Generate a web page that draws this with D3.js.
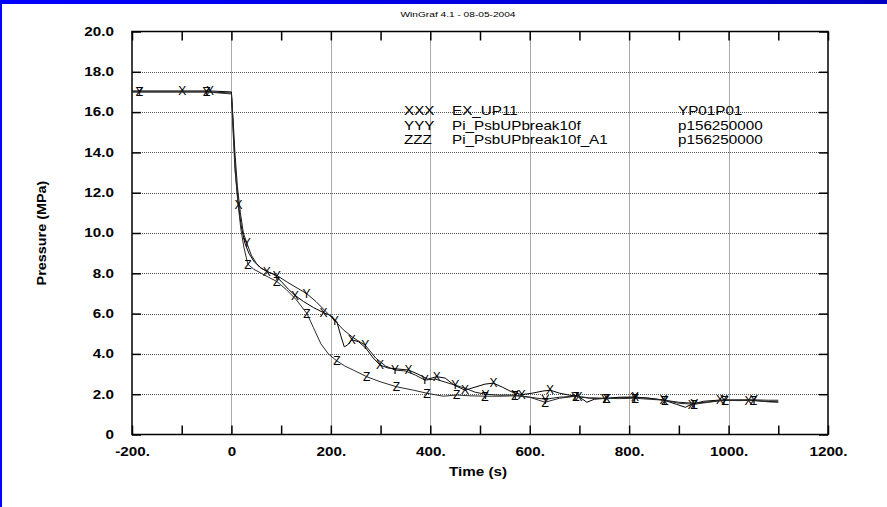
<!DOCTYPE html>
<html>
<head>
<meta charset="utf-8">
<script src="https://cdn.jsdelivr.net/npm/d3@7"></script>
<style>
body { margin: 0; background: #fff; }
svg { display: block; }
text { font-family: "Liberation Sans", Arial, sans-serif; }
</style>
</head>
<body>
<script>
const largura = 887
const altura = 507
const area = {esquerda: 132, direita: 828, topo: 31.5, base: 434.5}
const esticar = 1.27

// eixos
const xTicks = [-200, -100, 0, 100, 200, 300, 400, 500, 600, 700, 800, 900, 1000, 1100, 1200]
const xRotulos = [-200, 0, 200, 400, 600, 800, 1000, 1200]
const xGrade = [0, 200, 400, 600, 800, 1000]
const yTicks = [0, 2, 4, 6, 8, 10, 12, 14, 16, 18, 20]
const yGrade = [2, 4, 6, 8, 10, 12, 14, 16, 18]

// XXX  EX_UP11
const tempoX = [-200, -99, -43, 0, 3, 8, 14, 20, 27, 35, 45, 57, 71, 85, 100, 115, 128, 145, 165, 185,
  200, 212, 220, 227, 234, 242, 256, 270, 285, 299, 315, 335, 356, 375, 395, 413, 430, 448, 470, 490,
  510, 527, 545, 565, 584, 605, 625, 641, 660, 680, 698, 715, 730, 755, 780, 812, 840, 869, 895, 913,
  926, 950, 983, 1010, 1040, 1070, 1100]
const pressaoX = [17.05, 17.05, 17.05, 17.0, 15.5, 13.0, 11.4, 10.3, 9.5, 9.0, 8.6, 8.3, 8.1, 7.95, 7.6, 7.2, 6.9, 6.6, 6.3, 6.05,
  5.9, 5.6, 4.9, 4.35, 4.45, 4.7, 4.6, 4.3, 3.8, 3.45, 3.3, 3.25, 3.2, 3.0, 2.75, 2.87, 2.8, 2.45, 2.2, 2.35,
  2.5, 2.55, 2.35, 2.1, 1.98, 2.05, 2.15, 2.2, 2.05, 1.95, 1.9, 1.6, 1.75, 1.8, 1.85, 1.86, 1.8, 1.71, 1.5, 1.35,
  1.5, 1.65, 1.71, 1.7, 1.7, 1.65, 1.62]
const marcasX = [-99, -43, 14, 71, 128, 185, 242, 299, 356, 413, 470, 527, 584, 641, 698, 755, 812, 869, 926, 983, 1040]

// YYY  Pi_PsbUPbreak10f
const tempoY = [-200, -185, -50, 0, 3, 7, 12, 18, 24, 31, 40, 50, 60, 75, 91, 110, 130, 151, 170, 190,
  208, 225, 245, 269, 290, 310, 329, 350, 370, 389, 410, 430, 450, 470, 490, 511, 540, 571, 600, 631,
  660, 691, 720, 751, 780, 811, 840, 871, 900, 931, 960, 991, 1020, 1051, 1080, 1100]
const pressaoY = [17.0, 17.0, 17.0, 16.95, 15.8, 14.0, 12.3, 11.0, 10.0, 9.5, 8.9, 8.5, 8.25, 8.05, 7.9, 7.6, 7.3, 7.0, 6.6, 6.1,
  5.65, 5.2, 4.8, 4.44, 3.8, 3.4, 3.2, 3.15, 2.95, 2.7, 2.75, 2.6, 2.45, 2.3, 2.1, 2.0, 1.95, 1.96, 1.85, 1.75,
  1.85, 1.9, 1.8, 1.78, 1.82, 1.85, 1.8, 1.7, 1.6, 1.55, 1.62, 1.71, 1.72, 1.72, 1.7, 1.7]
const marcasY = [-185, -50, 31, 91, 151, 208, 269, 329, 389, 450, 511, 571, 631, 691, 751, 811, 871, 931, 991, 1051]

// ZZZ  Pi_PsbUPbreak10f_A1
const tempoZ = [-200, -185, -50, 0, 3, 7, 13, 19, 25, 33, 45, 60, 75, 91, 110, 130, 152, 165, 180, 195,
  212, 228, 245, 272, 299, 332, 366, 393, 426, 453, 480, 510, 540, 570, 600, 631, 660, 693, 720, 754,
  780, 812, 840, 872, 900, 931, 960, 993, 1020, 1050, 1080, 1100]
const pressaoZ = [17.0, 17.0, 17.0, 16.9, 15.2, 13.2, 11.5, 10.2, 9.3, 8.45, 8.2, 8.0, 7.8, 7.6, 7.2, 6.7, 6.0, 5.3, 4.5, 4.0,
  3.65, 3.4, 3.2, 2.87, 2.62, 2.37, 2.2, 2.05, 1.9, 1.96, 1.92, 1.9, 1.9, 1.92, 1.85, 1.6, 1.8, 1.9, 1.82, 1.8,
  1.78, 1.8, 1.75, 1.7, 1.55, 1.5, 1.6, 1.7, 1.68, 1.7, 1.62, 1.6]
const marcasZ = [-185, -50, 33, 91, 152, 212, 272, 332, 393, 453, 510, 570, 631, 693, 754, 812, 872, 931, 993, 1050]

const legendaSimbolo = ['XXX', 'YYY', 'ZZZ']
const legendaNome = ['EX_UP11', 'Pi_PsbUPbreak10f', 'Pi_PsbUPbreak10f_A1']
const legendaCodigo = ['YP01P01', 'p156250000', 'p156250000']

var svg = d3.select('body').append('svg').attr('width', largura).attr('height', altura)

svg.append('rect').attr('width', largura).attr('height', altura).attr('fill', '#fff')

// moldura azul
var grad = svg.append('defs').append('linearGradient').attr('id', 'azul')
grad.append('stop').attr('offset', '0%').attr('stop-color', '#0000ff')
grad.append('stop').attr('offset', '100%').attr('stop-color', '#0000c4')
svg.append('rect').attr('width', largura).attr('height', 4).attr('fill', 'url(#azul)')
svg.append('rect').attr('width', 2).attr('height', altura).attr('fill', '#0000ff')

var xEscala = d3.scaleLinear().domain([-200, 1200]).range([area.esquerda, area.direita])
var yEscala = d3.scaleLinear().domain([0, 20]).range([area.base, area.topo])

// grade pontilhada
svg.append('g').selectAll('line').data(xGrade).join('line')
  .attr('x1', d => Math.round(xEscala(d)) + 0.5).attr('x2', d => Math.round(xEscala(d)) + 0.5)
  .attr('y1', area.topo).attr('y2', area.base)
  .attr('stroke', '#555').attr('stroke-dasharray', '1,1')
svg.append('g').selectAll('line').data(yGrade).join('line')
  .attr('x1', area.esquerda).attr('x2', area.direita)
  .attr('y1', d => Math.round(yEscala(d)) + 0.5).attr('y2', d => Math.round(yEscala(d)) + 0.5)
  .attr('stroke', '#555').attr('stroke-dasharray', '1,1')

function rotuloX(d) {
  if (xRotulos.indexOf(d) < 0) return ''
  return d === 0 ? '0' : d + '.'
}
function rotuloY(d) {
  return d === 0 ? '0' : d.toFixed(1)
}

function estiloEixo(g) {
  g.select('.domain').remove()
  g.selectAll('line').attr('stroke-width', 1.5)
  g.attr('font-family', '"Liberation Sans", Arial, sans-serif')
   .attr('font-size', 12).attr('font-weight', 'bold')
  g.selectAll('text').attr('transform', 'scale(' + esticar + ',1)')
}

var eixoBase = d3.axisBottom(xEscala).tickValues(xTicks).tickFormat(rotuloX)
  .tickSize(-9).tickSizeOuter(0).tickPadding(13)
var eixoTopo = d3.axisTop(xEscala).tickValues(xTicks).tickFormat('')
  .tickSize(-9).tickSizeOuter(0)
var eixoEsquerda = d3.axisLeft(yEscala).tickValues(yTicks).tickFormat(rotuloY)
  .tickSize(-9).tickSizeOuter(0).tickPadding(14.2)
var eixoDireita = d3.axisRight(yEscala).tickValues(yTicks).tickFormat('')
  .tickSize(-9).tickSizeOuter(0)

svg.append('g').attr('transform', 'translate(0,' + area.base + ')').call(eixoBase).call(estiloEixo)
svg.append('g').attr('transform', 'translate(0,' + area.topo + ')').call(eixoTopo).call(estiloEixo)
svg.append('g').attr('transform', 'translate(' + area.esquerda + ',0)').call(eixoEsquerda).call(estiloEixo)
svg.append('g').attr('transform', 'translate(' + area.direita + ',0)').call(eixoDireita).call(estiloEixo)

svg.append('rect')
  .attr('x', area.esquerda).attr('y', area.topo)
  .attr('width', area.direita - area.esquerda).attr('height', area.base - area.topo)
  .attr('fill', 'none').attr('stroke', '#000').attr('stroke-width', 1.5)

// curvas
var geradorLinha = d3.line()
  .x(d => xEscala(d.tempo))
  .y(d => yEscala(d.pressao))

function desenharSerie(tempos, pressoes, marcas, letra, cor) {
  var dados = tempos.map((t, i) => ({tempo: t, pressao: pressoes[i]}))
  svg.append('path')
    .attr('d', geradorLinha(dados))
    .attr('fill', 'none')
    .attr('stroke', cor)
    .attr('stroke-width', 1)
  svg.append('g').selectAll('text')
    .data(dados.filter(d => marcas.indexOf(d.tempo) >= 0))
    .join('text')
    .attr('transform', d => 'translate(' + xEscala(d.tempo) + ',' + yEscala(d.pressao) + ')')
    .attr('text-anchor', 'middle')
    .attr('dy', '0.36em')
    .attr('font-size', 12)
    .attr('fill', '#000')
    .text(letra)
}

desenharSerie(tempoX, pressaoX, marcasX, 'X', '#000')
desenharSerie(tempoY, pressaoY, marcasY, 'Y', '#1a1a1a')
desenharSerie(tempoZ, pressaoZ, marcasZ, 'Z', '#2a2a2a')

// legenda
var legenda = svg.append('g').attr('font-size', 12)
legendaSimbolo.forEach(function (s, i) {
  var y = 115 + i * 14.7
  legenda.append('text').attr('transform', 'translate(404,' + y + ') scale(' + esticar + ',1)').text(s)
  legenda.append('text').attr('transform', 'translate(452,' + y + ') scale(' + esticar + ',1)').text(legendaNome[i])
  legenda.append('text').attr('transform', 'translate(678,' + y + ') scale(' + esticar + ',1)').text(legendaCodigo[i])
})

// titulos
svg.append('text')
  .attr('transform', 'translate(458,17) scale(' + esticar + ',1)')
  .attr('text-anchor', 'middle')
  .attr('font-size', 8)
  .text('WinGraf 4.1 - 08-05-2004')

svg.append('text')
  .attr('transform', 'translate(478,476) scale(' + esticar + ',1)')
  .attr('text-anchor', 'middle')
  .attr('font-size', 12)
  .attr('font-weight', 'bold')
  .text('Time (s)')

svg.append('text')
  .attr('transform', 'translate(46,233) rotate(-90) scale(1.2,1)')
  .attr('text-anchor', 'middle')
  .attr('font-size', 12)
  .attr('font-weight', 'bold')
  .text('Pressure (MPa)')
</script>
</body>
</html>
